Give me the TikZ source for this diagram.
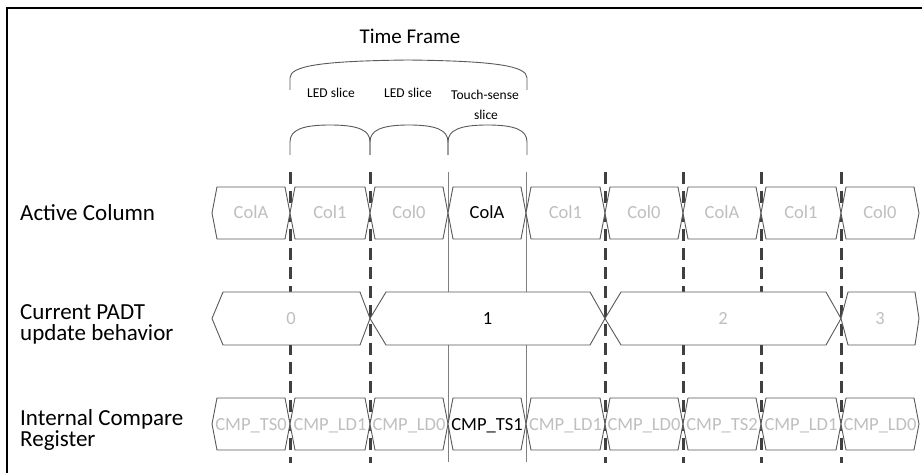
\documentclass[tikz,border=0pt]{standalone}
\usepackage{fontspec}
\setmainfont{Carlito}
\definecolor{tg}{HTML}{BFBFBF}
\definecolor{bk}{HTML}{000000}
\definecolor{cellcol}{HTML}{595959}
\definecolor{bracecol}{HTML}{595959}
\definecolor{dashcol}{HTML}{404040}
\definecolor{thincol}{HTML}{808080}
\newcommand\hexcell[9]{%
  \draw[cellline] (#2,{(#4+#5)/2}) -- (#2+#6,#4) -- (#3-#7,#4) -- (#3,{(#4+#5)/2}) -- (#3-#7,#5) -- (#2+#6,#5) -- cycle;
  \node[celltext,text=#9] (#1) at ({(#2+#3)/2},{(#4+#5)/2+6}) {#8};
}
\begin{document}
\begin{tikzpicture}[x=1pt,y=-1pt,
  frame/.style={line width=1.2pt,draw=black},
  brace/.style={draw=bracecol,line width=0.9pt},
  cellline/.style={draw=cellcol,fill=white,line width=0.9pt},
  thickdash/.style={draw=dashcol,line width=3pt,dash pattern=on 12pt off 7pt},
  thinline/.style={draw=thincol,line width=1pt},
  lab/.style={font=\fontsize{23}{24}\selectfont,anchor=base west,inner sep=0},
  small/.style={font=\fontsize{13.5}{15}\selectfont,anchor=base,inner sep=0},
  title/.style={font=\fontsize{21}{24}\selectfont,anchor=base,inner sep=0},
  celltext/.style={font=\fontsize{18.5}{20}\selectfont,anchor=base,inner sep=0}
]
\useasboundingbox (0,0) rectangle (922,473);
% frame
\coordinate (fb) at (7,473);
\coordinate (ftl) at (7,8);
\coordinate (fr) at (922,8);
\draw[frame] (fb) -- (ftl) -- (fr);
% title and braces
\node[title] (tf) at (410,44) {Time Frame};
\draw[brace] (290,90) -- (290,78) .. controls (290,66) and (320,61) .. (408,60) .. controls (496,61) and (527,66) .. (527,78) -- (527,90);
\node[small] (s1) at (331,98) {LED slice};
\node[small] (s2) at (408,98) {LED slice};
\node[small] (s3) at (485,100) {Touch-sense};
\node[small] (s4) at (486,120) {slice};
\foreach \a/\b in {290/370,370/448,448/527}{
  \draw[brace] (\a,155) -- (\a,142) .. controls (\a,130) and ({\a+12},125) .. ({(\a+\b)/2},125) .. controls ({\b-12},125) and (\b,130) .. (\b,142) -- (\b,155);
}
% vertical lines
\foreach \x [count=\i] in {290,370,605,683,761,841}{
  \coordinate (dt\i) at (\x,172);
  \coordinate (db\i) at (\x,463);
  \draw[thickdash] (dt\i) -- (db\i);
}
\foreach \x [count=\i] in {448,526}{
  \coordinate (tt\i) at (\x,172);
  \coordinate (tb\i) at (\x,462);
  \draw[thinline] (tt\i) -- (tb\i);
}
% row labels
\node[lab] (l1) at (20,221) {Active Column};
\node[lab] (l2) at (20,320) {Current PADT};
\node[lab] (l3) at (20,341) {update behavior};
\node[lab] (l4) at (20,425) {Internal Compare};
\node[lab] (l5) at (20,446) {Register};
% active column row
\foreach \l/\r/\t/\c [count=\i] in {212/290/ColA/tg,290/370/Col1/tg,370/448/Col0/tg,448/526/ColA/bk,526/605/Col1/tg,605/683/Col0/tg,683/761/ColA/tg,761/841/Col1/tg,841/919/Col0/tg}{
  \hexcell{ac\i}{\l}{\r}{187}{239}{5}{5}{\t}{\c}
}
% PADT row
\hexcell{pd1}{212}{370}{292}{345}{11}{10}{0}{tg}
\hexcell{pd2}{370}{605}{292}{345}{16}{15}{1}{bk}
\hexcell{pd3}{605}{841}{292}{345}{16}{15}{2}{tg}
\hexcell{pd4}{841}{919}{292}{345}{7}{4}{3}{tg}
% compare register row
\foreach \l/\r/\t/\c [count=\i] in {212/290/CMP\_TS0/tg,290/370/CMP\_LD1/tg,370/448/CMP\_LD0/tg,448/526/CMP\_TS1/bk,526/605/CMP\_LD1/tg,605/683/CMP\_LD0/tg,683/761/CMP\_TS2/tg,761/841/CMP\_LD1/tg,841/919/CMP\_LD0/tg}{
  \hexcell{cr\i}{\l}{\r}{398}{450}{5}{5}{\t}{\c}
}
\end{tikzpicture}
\end{document}
